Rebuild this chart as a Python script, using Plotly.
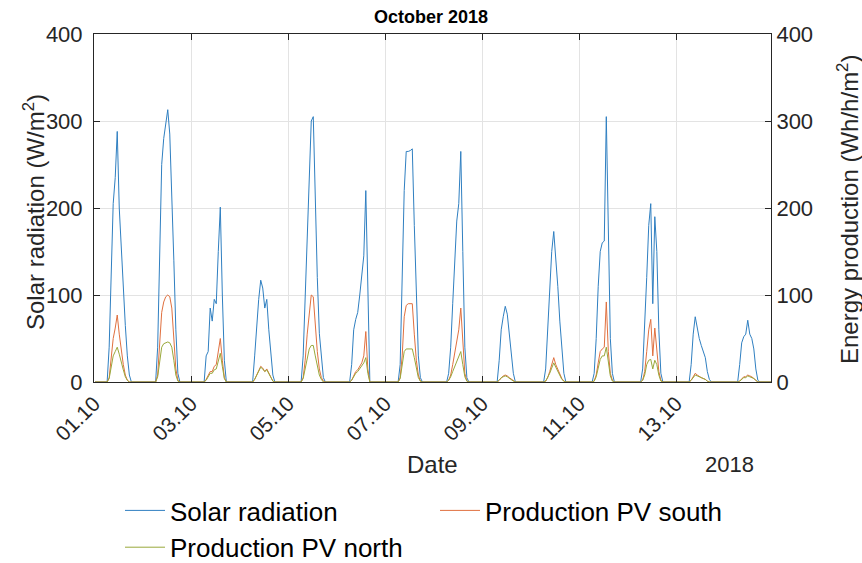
import pandas as pd
import plotly.graph_objects as go

# ---- data (hourly means, daylight hours 06:30 .. 18:30, night = 0) ----
days = ["2018-10-%02d" % d for d in range(1, 15)]
first_hour = 6  # first listed hour of each day (06:30)

solar_radiation = [
    [0, 40, 130, 205, 235, 288, 200, 150, 115, 65, 30, 8, 0],
    [0, 40, 150, 250, 280, 295, 313, 285, 220, 140, 60, 10, 0],
    [0, 30, 35, 85, 70, 95, 90, 150, 201, 100, 25, 0, 0],
    [0, 30, 65, 95, 117, 108, 85, 95, 60, 30, 8, 0, 0],
    [0, 30, 100, 175, 240, 300, 305, 200, 120, 56, 25, 5, 0],
    [0, 20, 60, 72, 80, 100, 125, 145, 220, 90, 0, 0, 0],
    [0, 20, 110, 220, 265, 265, 266, 268, 180, 90, 30, 5, 0],
    [0, 10, 40, 90, 140, 185, 205, 265, 150, 40, 5, 0, 0],
    [0, 0, 25, 60, 75, 87, 78, 55, 30, 10, 0, 0, 0],
    [0, 15, 60, 110, 150, 173, 145, 110, 70, 35, 10, 0, 0],
    [0, 10, 50, 110, 150, 160, 162, 305, 150, 50, 10, 0, 0],
    [0, 15, 60, 120, 180, 205, 90, 190, 150, 60, 10, 0, 0],
    [0, 20, 55, 75, 60, 50, 42, 35, 28, 12, 3, 0, 0],
    [0, 20, 45, 52, 55, 71, 55, 50, 38, 15, 2, 0, 0],
]

production_south = [
    [0, 5, 25, 50, 62, 77, 55, 35, 20, 8, 2, 0, 0],
    [0, 8, 40, 80, 92, 98, 100, 98, 85, 50, 15, 2, 0],
    [0, 3, 8, 12, 12, 18, 20, 35, 50, 25, 5, 0, 0],
    [0, 3, 8, 13, 18, 16, 12, 15, 10, 5, 1, 0, 0],
    [0, 5, 25, 55, 80, 100, 98, 65, 35, 15, 5, 1, 0],
    [0, 2, 8, 12, 14, 18, 22, 30, 58, 15, 0, 0, 0],
    [0, 5, 30, 75, 88, 90, 90, 90, 55, 25, 8, 1, 0],
    [0, 2, 8, 20, 35, 50, 60, 85, 40, 10, 1, 0, 0],
    [0, 0, 2, 5, 7, 8, 7, 5, 3, 1, 0, 0, 0],
    [0, 1, 5, 12, 20, 28, 20, 14, 8, 4, 1, 0, 0],
    [0, 1, 8, 22, 35, 38, 40, 92, 35, 10, 2, 0, 0],
    [0, 2, 12, 35, 60, 72, 30, 62, 40, 12, 2, 0, 0],
    [0, 2, 6, 10, 8, 6, 5, 4, 3, 1, 0, 0, 0],
    [0, 1, 4, 6, 6, 8, 7, 6, 4, 2, 0, 0, 0],
]

production_north = [
    [0, 4, 18, 30, 35, 40, 32, 22, 14, 6, 2, 0, 0],
    [0, 6, 25, 40, 44, 45, 46, 45, 40, 25, 8, 1, 0],
    [0, 2, 6, 10, 10, 14, 15, 25, 33, 18, 4, 0, 0],
    [0, 3, 8, 13, 17, 15, 12, 14, 10, 5, 1, 0, 0],
    [0, 4, 16, 30, 38, 42, 42, 30, 18, 8, 3, 0, 0],
    [0, 2, 7, 10, 12, 15, 18, 22, 28, 10, 0, 0, 0],
    [0, 4, 20, 35, 38, 38, 38, 38, 28, 14, 5, 1, 0],
    [0, 2, 6, 12, 18, 24, 28, 35, 20, 6, 1, 0, 0],
    [0, 0, 2, 5, 6, 7, 6, 4, 2, 1, 0, 0, 0],
    [0, 1, 5, 10, 16, 22, 17, 12, 7, 3, 1, 0, 0],
    [0, 1, 6, 16, 26, 30, 30, 40, 22, 7, 1, 0, 0],
    [0, 2, 8, 20, 25, 26, 15, 25, 20, 8, 1, 0, 0],
    [0, 2, 5, 8, 7, 6, 5, 4, 3, 1, 0, 0, 0],
    [0, 1, 3, 5, 5, 7, 6, 5, 4, 2, 0, 0, 0],
]

tick_dates = ["2018-10-01", "2018-10-03", "2018-10-05", "2018-10-07",
              "2018-10-09", "2018-10-11", "2018-10-13"]
tick_labels = ["01.10", "03.10", "05.10", "07.10", "09.10", "11.10", "13.10"]


def to_series(daily):
    times, vals = [], []
    for day, dvals in zip(days, daily):
        base = pd.Timestamp(day)
        for h in range(24):
            k = h - first_hour
            v = dvals[k] if 0 <= k < len(dvals) else 0
            times.append(base + pd.Timedelta(hours=h, minutes=30))
            vals.append(v)
    return times, vals


FONT = "Liberation Sans, Arial, Helvetica, sans-serif"
AX = "#262626"
GRID = "#E3E3E3"

t, rad = to_series(solar_radiation)
_, south = to_series(production_south)
_, north = to_series(production_north)

fig = go.Figure()
fig.add_trace(go.Scatter(x=t, y=rad, mode="lines", name="Solar radiation",
                         line=dict(color="#2F7FC1", width=1)))
fig.add_trace(go.Scatter(x=t, y=south, mode="lines", name="Production PV south",
                         line=dict(color="#E0703F", width=1), yaxis="y2"))
fig.add_trace(go.Scatter(x=t, y=north, mode="lines", name="Production PV north",
                         line=dict(color="#99A83A", width=1), yaxis="y2"))

# plot area in pixels
plot_l, plot_t = 94, 34
plot_w, plot_h = 862 - 94 - 91, 563 - 34 - 181


def px_x(px):
    return (px - plot_l) / plot_w


def px_y(py):
    return (plot_t + plot_h - py) / plot_h


def label(text, x, y, size, angle=0):
    return dict(text=text, textangle=angle, x=px_x(x), y=px_y(y),
                xref="paper", yref="paper", xanchor="center", yanchor="middle",
                showarrow=False, font=dict(family=FONT, size=size, color=AX))


fig.update_layout(
    width=862, height=563,
    margin=dict(l=94, r=91, t=34, b=181, autoexpand=False),
    paper_bgcolor="white", plot_bgcolor="white",
    font=dict(family=FONT, size=22, color=AX),
    title=dict(text="<b>October 2018</b>", x=0.5, xanchor="center",
               y=1 - 17 / 563, yanchor="middle", yref="container",
               font=dict(family=FONT, size=18, color="black")),
    xaxis=dict(
        type="date",
        range=["2018-10-01 00:00", "2018-10-14 23:00"],
        tickvals=tick_dates, ticktext=tick_labels, tickangle=-45,
        tickfont=dict(size=21, color=AX),
        showgrid=True, gridcolor=GRID, gridwidth=1,
        showline=True, linecolor=AX, linewidth=1, mirror="ticks",
        ticks="inside", ticklen=6, tickcolor=AX, zeroline=False,
        automargin=False,
    ),
    yaxis=dict(
        range=[0, 400], dtick=100, tickfont=dict(size=22, color=AX),
        showgrid=True, gridcolor=GRID, gridwidth=1,
        showline=True, linecolor=AX, linewidth=1,
        ticks="inside", ticklen=6, tickcolor=AX, zeroline=False,
        automargin=False, ticklabelstandoff=6,
    ),
    yaxis2=dict(
        range=[0, 400], dtick=100, overlaying="y", side="right",
        tickfont=dict(size=22, color=AX),
        showgrid=False, showline=True, linecolor=AX, linewidth=1,
        ticks="inside", ticklen=6, tickcolor=AX, zeroline=False,
        automargin=False,
    ),
    legend=dict(
        orientation="h", x=px_x(120), xanchor="left", y=px_y(487), yanchor="top",
        font=dict(family=FONT, size=26, color="black"),
        entrywidth=260, entrywidthmode="pixels",
        bgcolor="rgba(0,0,0,0)", tracegroupgap=0, itemwidth=40,
    ),
    annotations=[
        label("Solar radiation (W/m<sup>2</sup>)", 34, 212, 24, -90),
        label("Energy production (Wh/h/m<sup>2</sup>)", 848, 210, 24, -90),
        label("Date", 432, 465, 24),
        label("2018", 729, 465, 22),
    ],
)

fig.write_html("out.html")
